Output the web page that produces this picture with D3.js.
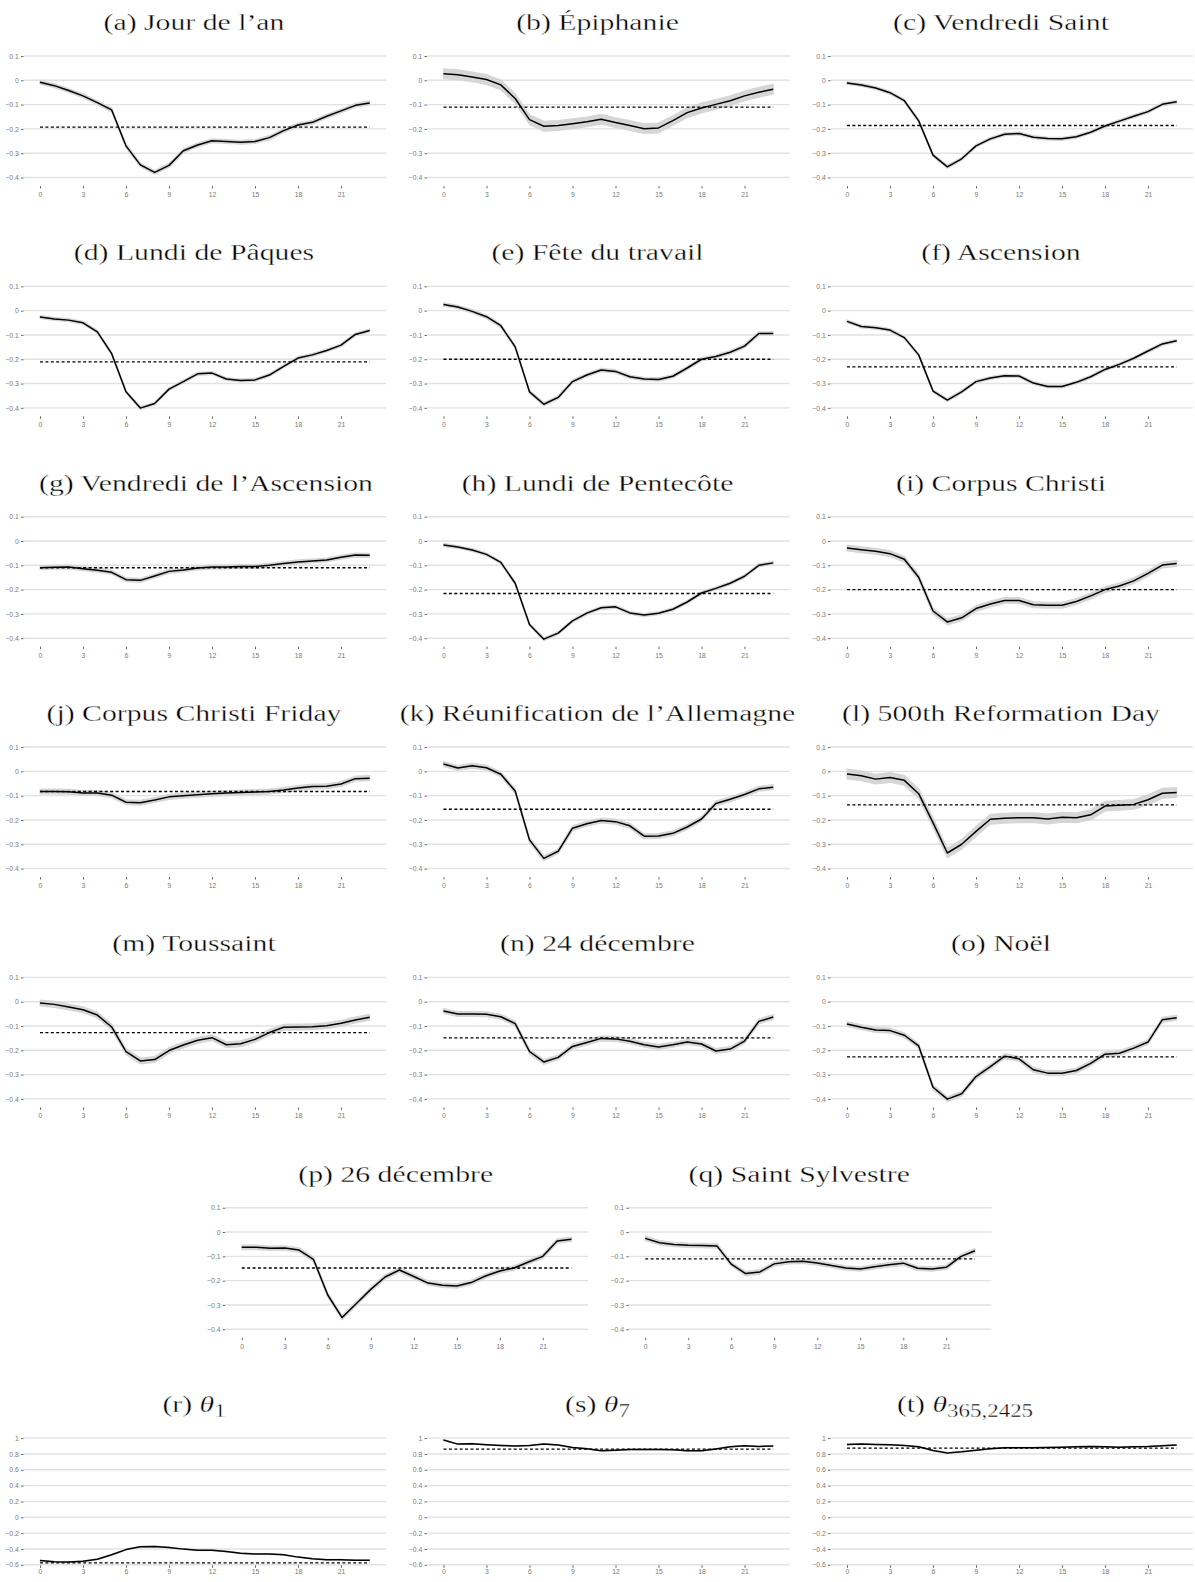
<!DOCTYPE html>
<html>
<head>
<meta charset="utf-8">
<script src="https://cdn.jsdelivr.net/npm/d3@7"></script>
<style>
body { margin: 0; background: #fff; }
svg { display: block; }
.title { font-family: "Liberation Serif", "Times New Roman", serif; font-size: 24px; fill: #000; stroke: #fff; stroke-width: 0.35px; }
.axis text { font-family: "Liberation Sans", Arial, sans-serif; font-size: 6.8px; fill: #7a7a7a; }
.axis line { stroke: #444; stroke-width: 0.8; }
.axis path { display: none; }
</style>
</head>
<body>
<div id="chart"></div>
<script>
// hourly effects per holiday
const hours = [0,1,2,3,4,5,6,7,8,9,10,11,12,13,14,15,16,17,18,19,20,21,22,23];
const xTicks = [0,3,6,9,12,15,18,21];
const yTicksHoliday = [0.1,0,-0.1,-0.2,-0.3,-0.4];
const yTicksTheta = [1,0.8,0.6,0.4,0.2,0,-0.2,-0.4,-0.6];

const titles = [
  "(a) Jour de l’an", "(b) Épiphanie", "(c) Vendredi Saint",
  "(d) Lundi de Pâques", "(e) Fête du travail", "(f) Ascension",
  "(g) Vendredi de l’Ascension", "(h) Lundi de Pentecôte", "(i) Corpus Christi",
  "(j) Corpus Christi Friday", "(k) Réunification de l’Allemagne", "(l) 500th Reformation Day",
  "(m) Toussaint", "(n) 24 décembre", "(o) Noël",
  "(p) 26 décembre", "(q) Saint Sylvestre",
  "(r) θ_1", "(s) θ_7", "(t) θ_365,2425"
];

const jourDeLAn = [-0.008,-0.022,-0.042,-0.064,-0.092,-0.122,-0.270,-0.348,-0.379,-0.350,-0.290,-0.266,-0.249,-0.252,-0.255,-0.252,-0.236,-0.207,-0.184,-0.173,-0.148,-0.126,-0.103,-0.093];
const epiphanie = [0.027,0.023,0.014,0.003,-0.019,-0.075,-0.162,-0.189,-0.186,-0.179,-0.171,-0.160,-0.174,-0.186,-0.199,-0.196,-0.166,-0.133,-0.114,-0.099,-0.084,-0.064,-0.049,-0.037];
const vendrediSaint = [-0.011,-0.019,-0.032,-0.051,-0.084,-0.167,-0.308,-0.356,-0.323,-0.270,-0.241,-0.222,-0.219,-0.234,-0.240,-0.241,-0.232,-0.214,-0.188,-0.168,-0.148,-0.129,-0.099,-0.088];
const lundiPaques = [-0.026,-0.034,-0.039,-0.050,-0.087,-0.177,-0.334,-0.401,-0.382,-0.323,-0.292,-0.260,-0.257,-0.281,-0.287,-0.285,-0.265,-0.229,-0.195,-0.182,-0.164,-0.142,-0.098,-0.082];
const feteTravail = [0.025,0.015,-0.003,-0.025,-0.062,-0.149,-0.334,-0.385,-0.357,-0.292,-0.265,-0.244,-0.250,-0.272,-0.281,-0.283,-0.270,-0.236,-0.200,-0.189,-0.171,-0.146,-0.094,-0.094];
const ascension = [-0.044,-0.065,-0.070,-0.080,-0.111,-0.182,-0.331,-0.368,-0.334,-0.292,-0.277,-0.268,-0.269,-0.298,-0.312,-0.312,-0.295,-0.272,-0.242,-0.221,-0.196,-0.166,-0.137,-0.124];
const vendrediAscension = [-0.110,-0.108,-0.107,-0.114,-0.120,-0.129,-0.159,-0.162,-0.144,-0.125,-0.119,-0.111,-0.107,-0.107,-0.105,-0.105,-0.100,-0.093,-0.086,-0.082,-0.078,-0.067,-0.058,-0.059];
const lundiPentecote = [-0.016,-0.025,-0.037,-0.055,-0.088,-0.174,-0.344,-0.404,-0.379,-0.329,-0.297,-0.275,-0.271,-0.296,-0.305,-0.297,-0.281,-0.251,-0.214,-0.195,-0.174,-0.145,-0.100,-0.090];
const corpusChristi = [-0.029,-0.036,-0.042,-0.052,-0.075,-0.149,-0.288,-0.333,-0.316,-0.278,-0.259,-0.245,-0.245,-0.262,-0.264,-0.264,-0.249,-0.226,-0.200,-0.185,-0.164,-0.133,-0.099,-0.093];
const corpusChristiFriday = [-0.083,-0.083,-0.084,-0.089,-0.089,-0.098,-0.127,-0.129,-0.118,-0.105,-0.100,-0.096,-0.092,-0.089,-0.087,-0.085,-0.083,-0.077,-0.069,-0.062,-0.061,-0.052,-0.030,-0.028];
const reunification = [0.030,0.014,0.023,0.015,-0.012,-0.081,-0.282,-0.358,-0.329,-0.234,-0.216,-0.202,-0.207,-0.224,-0.267,-0.266,-0.255,-0.229,-0.196,-0.132,-0.115,-0.095,-0.072,-0.065];
const reformation = [-0.011,-0.018,-0.032,-0.025,-0.037,-0.092,-0.211,-0.336,-0.300,-0.247,-0.197,-0.193,-0.191,-0.191,-0.196,-0.189,-0.191,-0.179,-0.143,-0.140,-0.136,-0.117,-0.090,-0.087];
const toussaint = [-0.005,-0.011,-0.022,-0.033,-0.055,-0.104,-0.205,-0.244,-0.238,-0.201,-0.178,-0.159,-0.148,-0.177,-0.173,-0.155,-0.127,-0.105,-0.104,-0.103,-0.099,-0.089,-0.075,-0.064];
const decembre24 = [-0.038,-0.051,-0.051,-0.052,-0.062,-0.090,-0.205,-0.248,-0.229,-0.184,-0.168,-0.151,-0.153,-0.163,-0.177,-0.186,-0.177,-0.166,-0.174,-0.203,-0.195,-0.162,-0.081,-0.063];
const noel = [-0.092,-0.105,-0.116,-0.119,-0.138,-0.182,-0.352,-0.401,-0.379,-0.308,-0.267,-0.224,-0.235,-0.280,-0.294,-0.294,-0.283,-0.254,-0.216,-0.212,-0.191,-0.166,-0.074,-0.066];
const decembre26 = [-0.063,-0.063,-0.067,-0.066,-0.074,-0.112,-0.259,-0.352,-0.294,-0.236,-0.185,-0.156,-0.183,-0.210,-0.219,-0.222,-0.208,-0.181,-0.160,-0.148,-0.123,-0.100,-0.037,-0.030];
const saintSylvestre = [-0.026,-0.044,-0.051,-0.054,-0.055,-0.057,-0.132,-0.171,-0.164,-0.131,-0.122,-0.120,-0.127,-0.138,-0.148,-0.152,-0.143,-0.135,-0.128,-0.149,-0.152,-0.145,-0.101,-0.077];
const theta1 = [-0.545,-0.562,-0.566,-0.554,-0.529,-0.474,-0.408,-0.373,-0.369,-0.381,-0.402,-0.415,-0.415,-0.432,-0.453,-0.465,-0.465,-0.474,-0.503,-0.524,-0.537,-0.537,-0.541,-0.541];
const theta7 = [0.975,0.924,0.928,0.916,0.907,0.899,0.907,0.924,0.912,0.882,0.865,0.840,0.848,0.857,0.857,0.857,0.853,0.840,0.840,0.861,0.891,0.903,0.895,0.899];
const theta365 = [0.920,0.924,0.920,0.916,0.907,0.891,0.844,0.811,0.827,0.848,0.865,0.878,0.878,0.878,0.882,0.886,0.891,0.895,0.891,0.886,0.891,0.895,0.903,0.912];

// dashed line = average effect, ribbon half width
const levels = [-0.193,-0.110,-0.186,-0.211,-0.200,-0.231,-0.110,-0.216,-0.200,-0.083,-0.156,-0.138,-0.127,-0.149,-0.227,-0.148,-0.110,-0.575,0.861,0.874];
const ciHalf = [0.008,0.02,0.006,0.006,0.007,0.006,0.008,0.006,0.012,0.01,0.01,0.02,0.012,0.01,0.01,0.009,0.009,0.005,0.005,0.005];

const series = [jourDeLAn, epiphanie, vendrediSaint, lundiPaques, feteTravail, ascension,
  vendrediAscension, lundiPentecote, corpusChristi, corpusChristiFriday, reunification, reformation,
  toussaint, decembre24, noel, decembre26, saintSylvestre, theta1, theta7, theta365];

const W = 1195, H = 1582;
const colStep = 403.5, rowStep = 230.35;
// a couple of captions sit off-centre in the original
const titleShift = {6: 12, 19: -36};

const svg = d3.select("#chart").append("svg")
    .attr("width", W)
    .attr("height", H);

function panelPos(i){
    if (i < 15) return {left: (i % 3) * colStep, row: Math.floor(i / 3)};
    if (i < 17) return {left: (i - 15) * colStep + colStep / 2, row: 5};
    return {left: (i - 17) * colStep, row: 6};
}

series.forEach(function(vals, i){
    var pos = panelPos(i);
    var L = pos.left;
    var top = 56 + pos.row * rowStep;
    var isTheta = i >= 17;
    var yTicks = isTheta ? yTicksTheta : yTicksHoliday;
    var yMax = yTicks[0], yMin = yTicks[yTicks.length - 1];

    var x = d3.scaleLinear().domain([0, 23]).range([L + 40, L + 369.7]);
    var y = d3.scaleLinear().domain([yMax, yMin]).range([top, top + (isTheta ? 126.7 : 121.5)]);

    var g = svg.append("g");

    // horizontal grid
    g.selectAll("line.grid")
        .data(yTicks)
        .enter()
        .append("line")
        .attr("class", "grid")
        .attr("x1", x(-1.15))
        .attr("x2", x(24.15))
        .attr("y1", function(d){ return y(d); })
        .attr("y2", function(d){ return y(d); })
        .attr("stroke", "#e2e2e2")
        .attr("stroke-width", 1.4);

    // y axis
    g.append("g")
        .attr("class", "axis")
        .attr("transform", "translate(" + x(-1.15) + ",0)")
        .call(d3.axisLeft(y).tickValues(yTicks).tickSize(2.5).tickPadding(2.2).tickFormat(d3.format("~g")));

    // x axis
    var xAxisY = isTheta ? y(yMin) + 0.5 : y(yMin) + 8.5;
    g.append("g")
        .attr("class", "axis")
        .attr("transform", "translate(0," + xAxisY + ")")
        .call(d3.axisBottom(x).tickValues(xTicks).tickSize(2.5).tickPadding(isTheta ? 1.5 : 3.5).tickFormat(d3.format("d")));

    // confidence band
    var half = ciHalf[i];
    var area = d3.area()
        .x(function(d, k){ return x(hours[k]); })
        .y0(function(d){ return y(d - half); })
        .y1(function(d){ return y(d + half); });
    g.append("path")
        .datum(vals)
        .attr("d", area)
        .attr("fill", "#d6d6d6")
        .attr("stroke", "#d6d6d6")
        .attr("stroke-width", 1.2)
        .attr("stroke-linejoin", "round");

    // mean level
    g.append("line")
        .attr("x1", x(0))
        .attr("x2", x(23))
        .attr("y1", y(levels[i]))
        .attr("y2", y(levels[i]))
        .attr("stroke", "#000")
        .attr("stroke-width", 1.3)
        .attr("stroke-dasharray", "3,2.4");

    // hourly line
    var line = d3.line()
        .x(function(d, k){ return x(hours[k]); })
        .y(function(d){ return y(d); });
    g.append("path")
        .datum(vals)
        .attr("d", line)
        .attr("fill", "none")
        .attr("stroke", "#000")
        .attr("stroke-width", 1.5)
        .attr("stroke-linejoin", "round");

    // title, stretched sideways to get closer to the wide LaTeX face
    var cx = L + 194 + (titleShift[i] || 0);
    var t = g.append("text")
        .attr("class", "title")
        .attr("transform", "translate(" + cx + "," + (top - 26) + ") scale(1.24,1)")
        .attr("text-anchor", "middle");
    var parts = titles[i].split("_");
    if (parts.length === 1) {
        t.text(parts[0]);
    } else {
        var head = parts[0];
        t.append("tspan").text(head.slice(0, -1));
        t.append("tspan").attr("font-style", "italic").text(head.slice(-1));
        t.append("tspan").attr("dy", 5).attr("font-size", "18.5px").text(parts[1]);
    }
});
</script>
</body>
</html>
